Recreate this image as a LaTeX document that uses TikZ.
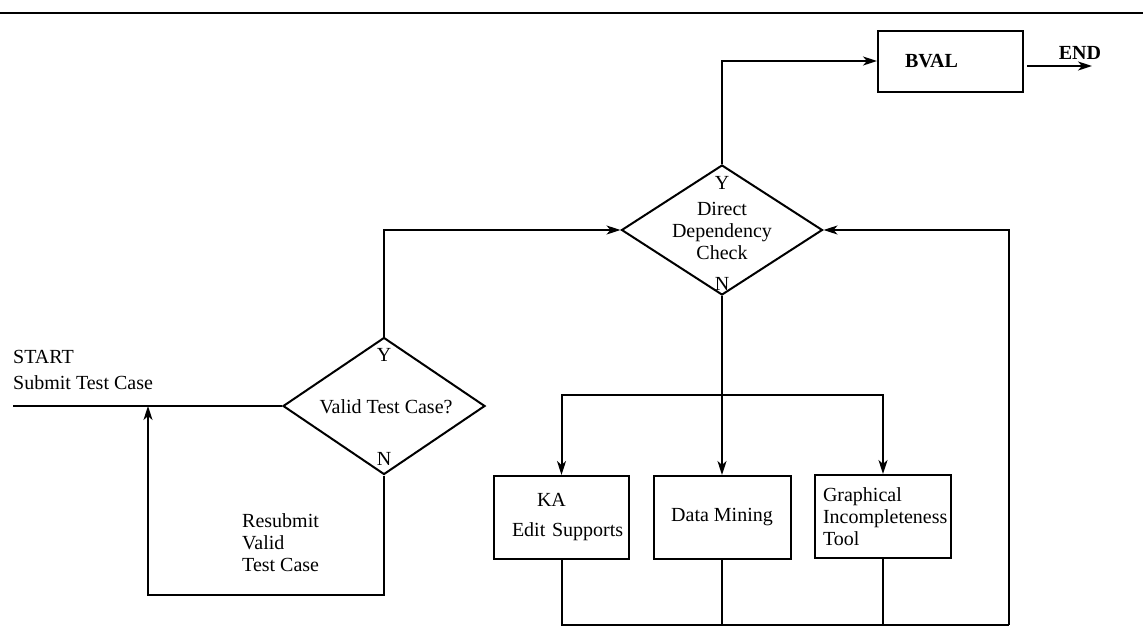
\documentclass[tikz,border=0pt]{standalone}
\usepackage{fontspec}
\setmainfont{Liberation Serif}
\usetikzlibrary{shapes.geometric,arrows.meta}
\tikzset{
  ln/.style={line width=2pt},
  arr/.style={ln,-{Stealth[length=14pt,width=9pt,inset=4pt]}},
  box/.style={draw,ln,rectangle,inner xsep=8pt,inner ysep=0pt,align=left},
  cbox/.style={draw,ln,rectangle,inner sep=0pt,align=center},
  dia/.style={draw,ln,diamond,inner sep=0pt},
  txt/.style={inner sep=0pt,align=center},
  ltxt/.style={inner sep=0pt,align=left,anchor=west}
}
\begin{document}
\begin{tikzpicture}[x=1pt,y=-1pt,font=\fontsize{20}{22}\selectfont]
\useasboundingbox (0,0) rectangle (1143,635);
% top rule
\coordinate (rl) at (0,13);
\coordinate (rr) at (1143,13);
\draw[line width=2.8pt] (rl) -- (rr);

% boxes
\node[box,minimum width=145,minimum height=61,text width=129] (bval) at (950.5,61) {\hspace*{19pt}\bfseries BVAL};
\node[box,minimum width=135,minimum height=83,text width=119] (ka) at (561.5,517.5) {\hspace*{35pt}KA\\[8pt]\hspace*{10pt}\mbox{Edit Supports}};
\node[cbox,minimum width=137,minimum height=83] (dm) at (722,517.5) {Data Mining};
\node[box,minimum width=136,minimum height=83,text width=120] (gi) at (883,516.5) {Graphical\\\mbox{Incompleteness}\\Tool};

% diamonds
\node[dia,minimum width=201,minimum height=130] (ddc) at (722,230) {};
\node[dia,minimum width=202,minimum height=137] (valid) at (384,406) {};

% diamond texts
\node[txt] (ddct) at (722,231) {Direct\\Dependency\\Check};
\node[txt] (ddcy) at (722,183) {Y};
\node[txt] (ddcn) at (722,284) {N};
\node[txt] (validt) at (386,407) {Valid Test Case?};
\node[txt] (validy) at (384,355) {Y};
\node[txt] (validn) at (384,459) {N};

% free texts
\node[ltxt] (start) at (13,370) {START\\[4pt]Submit Test Case};
\node[ltxt] (resub) at (242,543) {Resubmit\\Valid\\Test Case};
\node[txt,font=\fontsize{20}{22}\selectfont\bfseries] (endl) at (1080,53) {END};

% coordinates
\coordinate (st) at (13,406);
\coordinate (lb) at (148,595);
\coordinate (endpt) at (1092,66);
\coordinate (br) at (722,395);
\coordinate (bot) at (1009,625);

% connectors
\draw[ln] (st) -- (valid.west);
\draw[arr] (valid.south) |- (lb) -- (lb |- valid.west);
\draw[arr] (valid.north) |- (ddc.west);
\draw[arr] (ddc.north) |- (bval.west);
\draw[arr] ([xshift=3pt]bval.east |- endpt) -- (endpt);
\draw[arr] (ddc.south) -- (dm.north);
\draw[arr] (br) -| (ka.north);
\draw[arr] (br) -| (gi.north);
\draw[ln] (ka.south) |- (bot);
\draw[ln] (dm.south) -- (dm.south |- bot);
\draw[ln] (gi.south) -- (gi.south |- bot);
\draw[arr] (bot) |- (ddc.east);
\end{tikzpicture}
\end{document}
